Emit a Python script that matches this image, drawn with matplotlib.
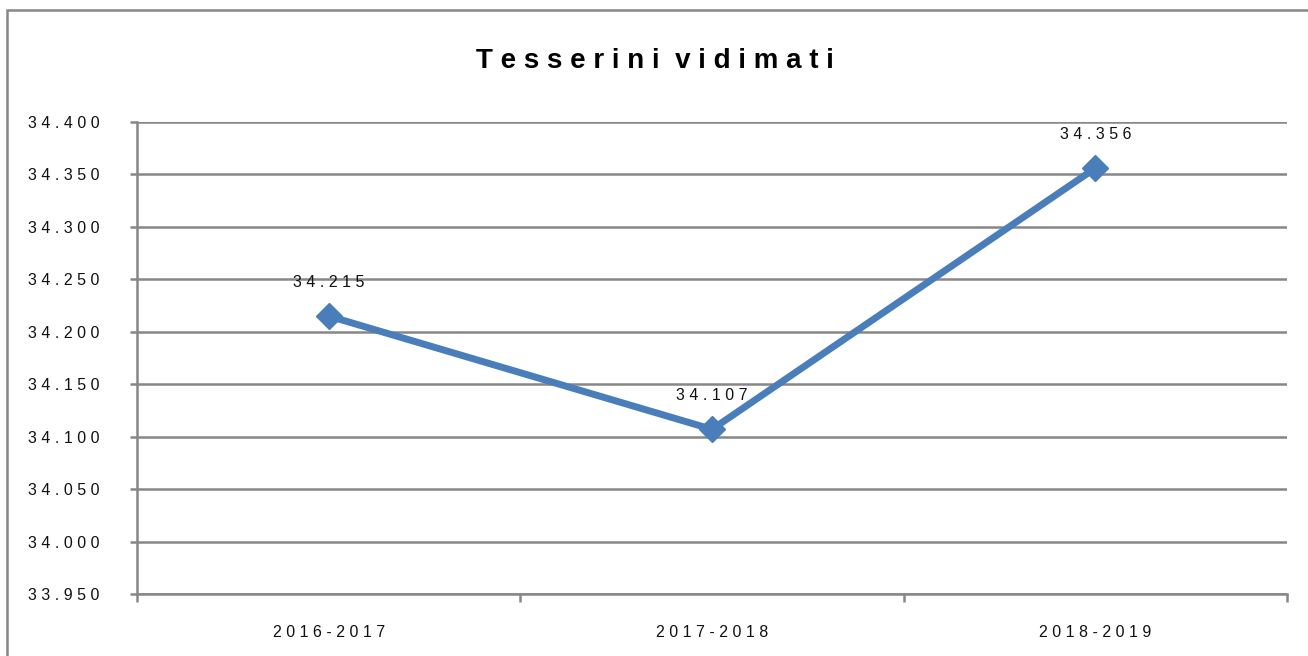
import matplotlib
matplotlib.use("Agg")
import matplotlib.pyplot as plt
from matplotlib.patches import Rectangle
from matplotlib.ticker import FixedLocator, FuncFormatter

title = "Tesserini vidimati"
categories = ["2016-2017", "2017-2018", "2018-2019"]
values = [34215, 34107, 34356]
y_ticks = [33950, 34000, 34050, 34100, 34150, 34200, 34250, 34300, 34350, 34400]

FONT = ["Liberation Sans Narrow", "Liberation Sans", "DejaVu Sans"]
plt.rcParams["font.family"] = FONT

def spaced(s):
    return " ".join(s)

def spaced_title(s):
    return "  ".join(" ".join(w) for w in s.split())

def it_fmt(v):
    return f"{int(round(v)):,}".replace(",", ".")

LINE_COLOR = "#4A7EBB"
GRID = "#878787"
TXT = "#111111"
FS = 11.5

fig = plt.figure(figsize=(13.08, 6.56), dpi=100)
fig.patch.set_facecolor("white")

# outer chart border (top and left visible)
fig.add_artist(Rectangle((7 / 1308, -0.1), 1.2, 1 - 10 / 656 + 0.1,
                         transform=fig.transFigure, fill=False,
                         edgecolor=GRID, linewidth=1.8, clip_on=False))

ax = fig.add_axes([137 / 1308, 1 - 594 / 656, (1287 - 137) / 1308, (594 - 122) / 656])
x = list(range(len(categories)))
ax.plot(x, values, color=LINE_COLOR, linewidth=5, marker="D", markersize=13,
        markerfacecolor=LINE_COLOR, markeredgecolor=LINE_COLOR, zorder=3)

ax.set_xlim(-0.5, len(categories) - 0.5)
ax.set_ylim(y_ticks[0], y_ticks[-1])

ax.yaxis.set_major_locator(FixedLocator(y_ticks))
ax.yaxis.set_major_formatter(FuncFormatter(lambda v, p: spaced(it_fmt(v))))
ax.grid(axis="y", color=GRID, linewidth=1.8, zorder=1)
ax.tick_params(axis="y", length=5, width=1.8, color=GRID, pad=22,
               labelsize=FS, labelcolor=TXT)

ax.set_xticks(x)
ax.set_xticklabels([spaced(c) for c in categories])
ax.set_xticks([i - 0.5 for i in range(len(categories) + 1)], minor=True)
ax.tick_params(axis="x", which="major", length=0, pad=22, labelsize=FS,
               labelcolor=TXT)
ax.tick_params(axis="x", which="minor", length=6, width=1.8, color=GRID)

for s in ["top", "right"]:
    ax.spines[s].set_visible(False)
ax.spines["left"].set_color(GRID)
ax.spines["left"].set_linewidth(1.8)
ax.spines["bottom"].set_color(GRID)
ax.spines["bottom"].set_linewidth(1.8)

for xi, v in zip(x, values):
    ax.annotate(spaced(it_fmt(v)), (xi, v), xytext=(0, 24), textcoords="offset points",
                ha="center", va="center", fontsize=FS, color=TXT, zorder=4)

fig.text(655 / 1308, 1 - 61 / 656, spaced_title(title),
         ha="center", va="center", fontsize=20, fontweight="bold", color="black")

fig.savefig("out.png", dpi=100, facecolor="white")
